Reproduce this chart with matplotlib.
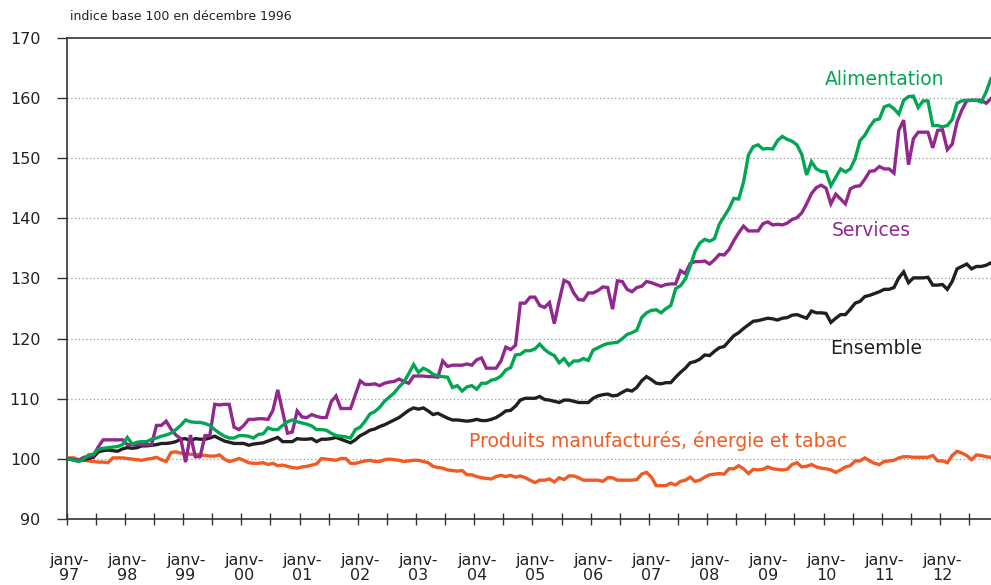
import matplotlib
matplotlib.use("Agg")
import matplotlib.pyplot as plt
import numpy as np

# Monthly indices, Jan 1997 .. Nov 2012 (base 100 = Dec 1996)
years = [str(y)[-2:] for y in range(1997, 2013)]
tick_labels = ["janv-\n" + y for y in years]

ensemble = [
    100.0, 99.9, 99.7, 99.9, 100.1, 100.3, 101.2, 101.4, 101.5, 101.4, 101.3, 101.7,
    101.9, 101.8, 101.9, 102.2, 102.2, 102.3, 102.4, 102.6, 102.6, 102.7, 102.9, 103.3,
    103.4, 103.0, 103.4, 103.3, 103.3, 103.5, 103.8, 103.4, 103.0, 102.8, 102.6, 102.6,
    102.6, 102.3, 102.5, 102.6, 102.7, 103.0, 103.3, 103.6, 102.9, 102.9, 102.9, 103.4,
    103.3, 103.3, 103.4, 102.9, 103.3, 103.3, 103.4, 103.6, 103.3, 103.0, 102.7, 103.2,
    103.9, 104.3, 104.8, 105.0, 105.4, 105.7, 106.1, 106.5, 106.9, 107.5, 108.1, 108.5,
    108.3, 108.5, 108.0, 107.4, 107.6, 107.2, 106.8, 106.5, 106.5, 106.4, 106.3, 106.4,
    106.6, 106.4, 106.4, 106.6, 106.9, 107.4, 108.0, 108.1, 108.8, 109.8, 110.1, 110.1,
    110.1, 110.4, 109.9, 109.8, 109.6, 109.4, 109.8, 109.8, 109.6, 109.4, 109.4, 109.4,
    110.1, 110.5, 110.7, 110.8, 110.5, 110.6, 111.1, 111.5, 111.3, 111.9, 113.0, 113.7,
    113.2, 112.6, 112.5, 112.7, 112.7, 113.6, 114.4, 115.1, 116.0, 116.2, 116.6, 117.3,
    117.2, 117.9, 118.5, 118.7, 119.6, 120.5, 121.0, 121.7, 122.3, 122.9, 123.0, 123.2,
    123.4, 123.3, 123.1, 123.4, 123.5, 123.9, 124.0, 123.7, 123.4, 124.6, 124.3, 124.3,
    124.2, 122.7, 123.4, 124.0, 124.0, 124.9, 125.9, 126.2, 127.0, 127.2, 127.5, 127.8,
    128.2, 128.2, 128.5, 130.1, 131.1, 129.3, 130.1, 130.1, 130.1, 130.2, 128.9, 128.9,
    129.0, 128.2, 129.5, 131.6, 132.0, 132.4, 131.6, 132.0, 132.0, 132.2, 132.6,
]

alimentation = [
    100.0, 99.8, 99.6, 100.0, 100.7, 100.8, 101.6, 101.8, 101.9, 102.0, 102.1, 102.4,
    103.6, 102.5, 102.8, 102.9, 102.9, 103.3, 103.5, 103.8, 104.0, 104.3, 104.9, 105.6,
    106.5, 106.2, 106.1, 106.1, 105.9, 105.6, 104.9, 104.3, 103.8, 103.5, 103.5, 103.9,
    103.9, 103.8, 103.5, 104.1, 104.2, 105.2, 104.9, 104.9, 105.6, 106.2, 106.5, 106.2,
    106.0, 105.8, 105.5, 104.9, 104.9, 104.8, 104.3, 103.9, 103.8, 103.7, 103.5, 104.9,
    105.3, 106.3, 107.5, 107.9, 108.6, 109.6, 110.3, 111.0, 112.0, 112.8, 114.2, 115.7,
    114.4, 115.1, 114.7, 114.1, 113.8, 113.7, 113.6, 111.9, 112.2, 111.3, 112.0, 112.2,
    111.6, 112.6, 112.6, 113.1, 113.3, 113.8, 114.8, 115.2, 117.3, 117.4, 118.0, 118.0,
    118.3, 119.1, 118.2, 117.6, 117.2, 116.0, 116.7, 115.6, 116.3, 116.3, 116.7, 116.4,
    118.1, 118.5, 118.9, 119.2, 119.3, 119.4, 120.0, 120.7, 121.0, 121.4, 123.5, 124.3,
    124.7, 124.8, 124.3, 125.0, 125.5, 128.3, 128.8, 129.9, 132.0, 134.5, 135.9, 136.5,
    136.2, 136.6, 139.0, 140.3, 141.6, 143.3, 143.2, 146.0, 150.5, 151.9, 152.2, 151.5,
    151.6, 151.5, 152.9, 153.6, 153.1, 152.8, 152.2, 150.6, 147.2, 149.4, 148.2, 147.8,
    147.7, 145.4, 146.8, 148.2, 147.7, 148.2, 149.9, 152.9, 153.8, 155.2, 156.3, 156.5,
    158.5, 158.8, 158.2, 157.3, 159.6, 160.2, 160.3, 158.4, 159.5, 159.5, 155.4, 155.4,
    155.2, 155.4, 156.4, 159.1, 159.5, 159.6, 159.6, 159.6, 159.3, 161.0, 163.2,
]

services = [
    100.0, 99.9, 99.8, 100.3, 100.4, 100.6, 102.0, 103.2, 103.2, 103.2, 103.2, 103.2,
    102.4, 102.4, 102.4, 102.4, 102.4, 102.4, 105.6, 105.6, 106.3, 105.0, 104.0, 103.4,
    99.5, 104.0, 100.4, 100.4, 103.9, 103.9, 109.1, 109.0, 109.1, 109.1, 105.3, 104.9,
    105.6, 106.6, 106.6, 106.7, 106.7, 106.6, 108.1, 111.5, 107.9, 104.3, 104.5, 108.0,
    107.0, 106.9, 107.4, 107.1, 106.9, 106.9, 109.5, 110.5, 108.4, 108.4, 108.4, 110.7,
    113.0, 112.4, 112.4, 112.5, 112.2, 112.6, 112.8, 112.9, 113.3, 112.9, 112.6, 113.8,
    113.8, 113.8, 113.7, 113.7, 113.6, 116.3, 115.4, 115.6, 115.6, 115.6, 115.8, 115.6,
    116.5, 116.8, 115.1, 115.1, 115.1, 116.3, 118.6, 118.2, 118.9, 125.9, 125.9, 126.9,
    126.9, 125.5, 125.2, 126.0, 122.5, 126.3, 129.7, 129.3, 127.6, 126.5, 126.4, 127.6,
    127.6, 128.0, 128.6, 128.5, 124.9, 129.6, 129.5, 128.2, 127.8, 128.5, 128.7, 129.5,
    129.3, 129.0, 128.7, 129.0, 129.1, 129.1, 131.3, 130.8, 132.5, 132.8, 132.8, 132.9,
    132.4, 133.1, 134.0, 133.9, 134.8, 136.3, 137.6, 138.7, 137.9, 137.9, 137.9, 139.1,
    139.4, 138.9, 139.0, 138.9, 139.2, 139.8, 140.1, 140.9, 142.4, 144.1, 145.1, 145.5,
    145.0, 142.4, 144.0, 143.2, 142.4, 144.9, 145.3, 145.4, 146.5, 147.8, 147.9, 148.6,
    148.2, 148.2, 147.5, 154.6, 156.3, 148.9, 153.2, 154.3, 154.3, 154.3, 151.7, 154.6,
    154.7, 151.4, 152.3, 156.0, 158.0, 159.5, 159.6, 159.6, 159.6, 159.1, 159.9,
]

produits = [
    100.2, 100.2, 99.9, 99.8, 99.7, 99.6, 99.5, 99.5, 99.4, 100.2, 100.2, 100.2,
    100.1, 100.0, 99.9, 99.8, 100.0, 100.1, 100.3, 99.9, 99.6, 101.1, 101.2, 101.0,
    100.9, 100.8, 100.8, 100.7, 100.6, 100.5, 100.5, 100.7, 100.0, 99.6, 99.8, 100.1,
    99.8, 99.4, 99.3, 99.3, 99.4, 99.1, 99.3, 98.9, 99.0, 98.8, 98.6, 98.5,
    98.7, 98.8, 99.0, 99.2, 100.1, 100.0, 99.9, 99.8, 100.1, 100.1, 99.3, 99.3,
    99.5, 99.7, 99.8, 99.6, 99.6, 99.9, 100.0, 99.9, 99.8, 99.6, 99.7, 99.8,
    99.8, 99.6, 99.4, 98.8, 98.6, 98.5, 98.2, 98.1, 98.0, 98.1, 97.4, 97.4,
    97.1, 96.9, 96.8, 96.7, 97.1, 97.3, 97.1, 97.3, 97.0, 97.2, 96.9, 96.5,
    96.1, 96.5, 96.5, 96.7, 96.2, 96.9, 96.6, 97.2, 97.2, 96.9, 96.5, 96.5,
    96.5, 96.5, 96.3, 96.9, 96.9, 96.5, 96.5, 96.5, 96.5, 96.6, 97.5, 97.8,
    97.0, 95.6, 95.6, 95.6, 96.0, 95.7, 96.3, 96.5, 97.0, 96.3, 96.5, 97.0,
    97.4, 97.5, 97.6, 97.5, 98.4, 98.4, 98.9, 98.4, 97.6, 98.3, 98.2, 98.3,
    98.7, 98.4, 98.3, 98.2, 98.3, 99.1, 99.4, 98.7, 98.8, 99.1, 98.7, 98.5,
    98.4, 98.2, 97.8, 98.2, 98.7, 98.9, 99.7, 99.7, 100.2, 99.7, 99.3, 99.1,
    99.6, 99.7, 99.8, 100.2, 100.4, 100.4, 100.3, 100.3, 100.3, 100.3, 100.6, 99.7,
    99.7, 99.4, 100.6, 101.3, 101.0, 100.6, 99.9, 100.7, 100.6, 100.4, 100.3,
]

series_names = ["Alimentation", "Services", "Ensemble",
                "Produits manufacturés, énergie et tabac"]

C_GREEN = "#00A651"
C_PURPLE = "#92278F"
C_BLACK = "#231F20"
C_ORANGE = "#F15A22"

plt.rcParams["font.family"] = ["DejaVu Sans"]

fig = plt.figure(figsize=(9.91, 5.85), dpi=100)
ax = fig.add_axes([0.0673, 0.1123, 0.9327, 0.8233])

months = np.arange(len(ensemble))
lw = 2.4
ax.plot(months, produits, color=C_ORANGE, lw=lw, solid_joinstyle="miter", zorder=3)
ax.plot(months, ensemble, color=C_BLACK, lw=lw, solid_joinstyle="miter", zorder=4)
ax.plot(months, services, color=C_PURPLE, lw=lw, solid_joinstyle="miter", zorder=5)
ax.plot(months, alimentation, color=C_GREEN, lw=lw, solid_joinstyle="miter", zorder=6)

ax.set_xlim(-0.5, 190.0)
ax.set_ylim(90, 170)

# y axis
ax.set_yticks(np.arange(90, 171, 10))
ax.tick_params(axis="y", direction="out", length=7, width=1.0, color="#333333",
               labelsize=11.5, pad=12, labelcolor="#222222")
for v in range(100, 170, 10):
    ax.axhline(v, color="#9a9a9a", lw=0.9, ls=(0, (1, 2)), zorder=1)

# x axis: half-year tick marks at month boundaries, labels at January
ax.set_xticks(np.arange(-0.5, 190, 6))
ax.tick_params(axis="x", which="major", direction="inout", length=9, width=1.0,
               color="#333333", labelbottom=False)
ax.set_xticks(np.arange(0, len(years) * 12, 12), minor=True)
ax.set_xticklabels(tick_labels, minor=True)
ax.tick_params(axis="x", which="minor", length=0, pad=24, labelsize=11.5,
               labelcolor="#222222")
for lab in ax.get_xticklabels(minor=True):
    lab.set_linespacing(1.05)

for side in ["left", "bottom", "top"]:
    ax.spines[side].set_color("#333333")
    ax.spines[side].set_linewidth(1.2)
ax.spines["right"].set_visible(False)

# series labels
lab_fs = 13.5
ax.text(168.0, 163.0, series_names[0], color=C_GREEN, fontsize=lab_fs,
        ha="center", va="center")
ax.text(165.3, 137.9, series_names[1], color=C_PURPLE, fontsize=lab_fs,
        ha="center", va="center")
ax.text(166.3, 118.3, series_names[2], color=C_BLACK, fontsize=lab_fs,
        ha="center", va="center")
ax.text(121.4, 103.0, series_names[3], color=C_ORANGE, fontsize=lab_fs,
        ha="center", va="center")

fig.text(0.0706, 0.971, "indice base 100 en décembre 1996", fontsize=9,
         color="#222222", ha="left", va="center")

fig.savefig("out.png", dpi=100)
